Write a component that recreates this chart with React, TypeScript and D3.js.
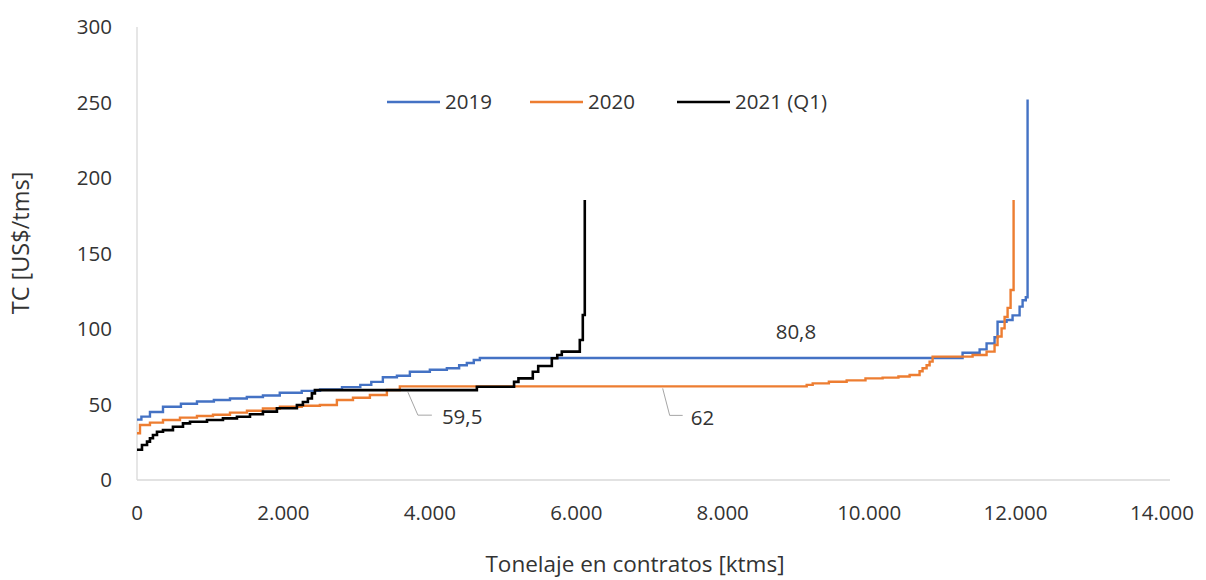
import React from "react";
import * as d3 from "d3";

// ---- data (cumulative tonnage [ktms], TC [US$/tms]) ----
const x2019 = [0, 60, 177, 355, 600, 819, 1050, 1270, 1500, 1720, 1950, 2250, 2500, 2800, 3050, 3200, 3358, 3550, 3727, 4000, 4232, 4400, 4505, 4600, 4683, 11276, 11509, 11604, 11713, 11754, 11877, 11959, 12055, 12096, 12140, 12164];
const tc2019 = [40, 42, 45, 48.5, 50.5, 52, 53, 54, 55, 56, 57.8, 59, 60, 61.5, 63, 65, 68, 69, 71.7, 73, 74, 76, 77.5, 79.5, 80.8, 84.3, 86.5, 90.5, 94.5, 104.8, 106, 109, 114.8, 119, 121, 252];

const x2020 = [0, 41, 177, 355, 587, 819, 1038, 1270, 1502, 1720, 1952, 2250, 2498, 2730, 2950, 3181, 3413, 3590, 9147, 9229, 9450, 9693, 9950, 10184, 10400, 10553, 10689, 10730, 10785, 10826, 10867, 11413, 11604, 11713, 11754, 11809, 11850, 11891, 11932, 11973];
const tc2020 = [31, 36.4, 38, 39.7, 41.3, 42.4, 43.2, 44.6, 45.9, 47.4, 48.5, 49.2, 49.7, 53, 54.5, 56.3, 59.6, 62, 63, 64, 65.1, 66, 67.3, 67.8, 68.5, 69.5, 72, 74, 76, 78.4, 81.7, 82.8, 85, 89.4, 95, 100.4, 108, 114, 125.8, 185.4];

const x2021 = [0, 68, 137, 177, 218, 273, 355, 491, 628, 724, 956, 1174, 1365, 1543, 1720, 1911, 2184, 2266, 2334, 2389, 2430, 4642, 5150, 5210, 5406, 5480, 5666, 5740, 5802, 6048, 6089, 6116];
const tc2021 = [20, 23.2, 25.4, 27.6, 29.8, 32, 33, 35.3, 37.5, 38.6, 39.7, 40.8, 41.9, 43.5, 45.3, 47.5, 49.7, 51.7, 54, 57.4, 59.5, 61.8, 65, 67.3, 71.7, 75.5, 80.6, 82.8, 85, 92.7, 109.3, 185.4];

const seriesNames = ["2019", "2020", "2021 (Q1)"];
const seriesColors = ["#4472C4", "#ED7D31", "#000000"];

const xTicks = [0, 2000, 4000, 6000, 8000, 10000, 12000, 14000];
const yTicks = [0, 50, 100, 150, 200, 250, 300];

// annotated values
const labelValues = [80.8, 59.5, 62];
const labelX = [9000, 3700, 7180];

const W = 1206;
const H = 580;
const FONT = "'Open Sans', 'Noto Sans', sans-serif";
const TEXT = "#333333";
const FS = 20.5;
const FS_TITLE = 22.5;

const locale = d3.formatLocale({ decimal: ",", thousands: ".", grouping: [3], currency: ["$", ""] });
const fmtX = locale.format(",.0f");
const fmtLbl = (v: number) => locale.format(",.1~f")(v);

export default function App() {
  const x = d3.scaleLinear().domain([0, 14000]).range([137, 1162]);
  const y = d3.scaleLinear().domain([0, 300]).range([480, 27]);

  const line = d3
    .line<[number, number]>()
    .x((d) => x(d[0]))
    .y((d) => y(d[1]))
    .curve(d3.curveStepAfter);

  const series = [
    x2019.map((v, i) => [v, tc2019[i]] as [number, number]),
    x2020.map((v, i) => [v, tc2020[i]] as [number, number]),
    x2021.map((v, i) => [v, tc2021[i]] as [number, number]),
  ];

  const legendX = [387, 530, 677];
  const legendY = 102;

  // annotation positions
  const a808 = { x: x(labelX[0]), y: y(labelValues[0]) - 26 };
  const p595 = { x: x(labelX[1]), y: y(labelValues[1]) };
  const p62 = { x: x(labelX[2]), y: y(labelValues[2]) };

  return (
    <svg
      width={W}
      height={H}
      style={{ position: "absolute", left: 0, top: 0, background: "#fff" }}
      fontFamily={FONT}
    >
      <rect width={W} height={H} fill="#fff" />
      {/* axes */}
      <line x1={x(0)} x2={x(0)} y1={y(0)} y2={y(300)} stroke="#d9d9d9" strokeWidth={1.3} />
      <line x1={x(0)} x2={x(14000) + 8} y1={y(0)} y2={y(0)} stroke="#d9d9d9" strokeWidth={1.3} />
      {yTicks.map((t) => (
        <text key={"y" + t} x={112} y={y(t)} dy="0.35em" textAnchor="end" fontSize={FS} fill={TEXT}>
          {t}
        </text>
      ))}
      {xTicks.map((t) => (
        <text key={"x" + t} x={x(t)} y={513} dy="0.35em" textAnchor="middle" fontSize={FS} fill={TEXT}>
          {fmtX(t)}
        </text>
      ))}
      <text
        transform={`translate(21,${243}) rotate(-90)`}
        textAnchor="middle"
        dy="0.35em"
        fontSize={FS_TITLE + 1}
        fill={TEXT}
      >
        TC [US$/tms]
      </text>
      <text x={635} y={564} dy="0.35em" textAnchor="middle" fontSize={FS_TITLE} fill={TEXT}>
        Tonelaje en contratos [ktms]
      </text>

      {/* series */}
      {series.map((s, i) => (
        <path key={i} d={line(s) || ""} fill="none" stroke={seriesColors[i]} strokeWidth={i === 2 ? 2.6 : 2.4} strokeLinejoin="miter" />
      ))}

      {/* legend */}
      {seriesNames.map((n, i) => (
        <g key={n}>
          <line x1={legendX[i]} x2={legendX[i] + 53} y1={legendY} y2={legendY} stroke={seriesColors[i]} strokeWidth={2.6} />
          <text x={legendX[i] + 58} y={legendY} dy="0.35em" fontSize={FS} fill={TEXT}>
            {n}
          </text>
        </g>
      ))}

      {/* data labels */}
      <text x={a808.x} y={a808.y} dy="0.35em" textAnchor="middle" fontSize={FS} fill={TEXT}>
        {fmtLbl(labelValues[0])}
      </text>
      <polyline
        points={`${p595.x},${p595.y + 2} ${p595.x + 10},${p595.y + 25} ${p595.x + 24},${p595.y + 25}`}
        fill="none"
        stroke="#a6a6a6"
        strokeWidth={1}
      />
      <text x={p595.x + 34} y={p595.y + 27} dy="0.35em" fontSize={FS} fill={TEXT}>
        {fmtLbl(labelValues[1])}
      </text>
      <polyline
        points={`${p62.x},${p62.y + 2} ${p62.x + 7},${p62.y + 29} ${p62.x + 20},${p62.y + 29}`}
        fill="none"
        stroke="#a6a6a6"
        strokeWidth={1}
      />
      <text x={p62.x + 28} y={p62.y + 31} dy="0.35em" fontSize={FS} fill={TEXT}>
        {fmtLbl(labelValues[2])}
      </text>
    </svg>
  );
}
